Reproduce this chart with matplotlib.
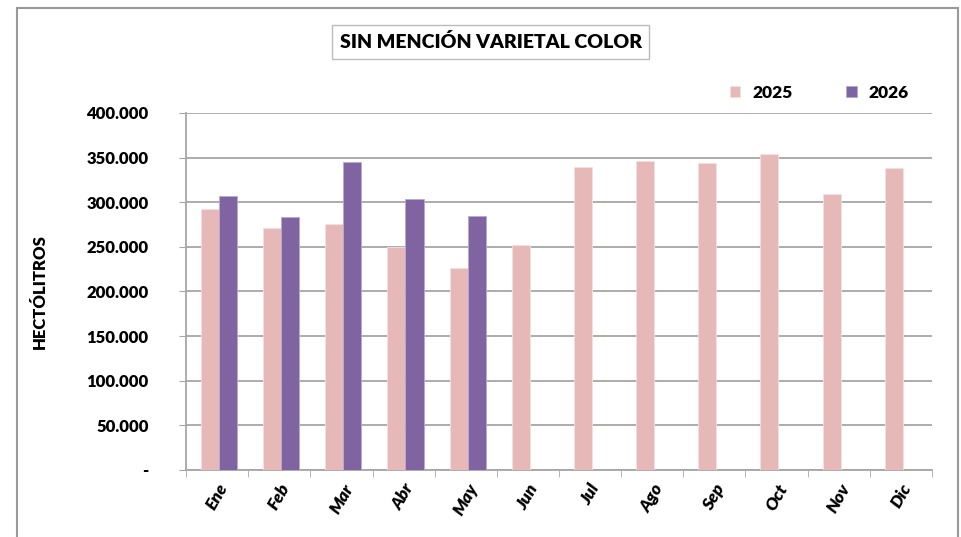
import matplotlib.pyplot as plt
import numpy as np
from matplotlib.patches import Rectangle
from matplotlib.ticker import FuncFormatter

plt.rcParams['font.family'] = ['Lato', 'DejaVu Sans']

# Data
months = ['Ene', 'Feb', 'Mar', 'Abr', 'May', 'Jun', 'Jul', 'Ago', 'Sep', 'Oct', 'Nov', 'Dic']
values_2025 = [292000, 271000, 276000, 250000, 226000, 252000, 340000, 346000, 344000, 354000, 309000, 338000]
values_2026 = [307000, 283000, 345000, 304000, 285000]

color_2025 = '#E6B9B8'
color_2026 = '#8064A2'
W = 'heavy'

fig = plt.figure(figsize=(9.61, 5.37), dpi=100)
ax = fig.add_axes([0.1936, 0.1248, 0.7762, 0.6648])

# Outer chart frame
fig.patches.append(Rectangle((0.0177, -0.05), 0.979, 1.035, transform=fig.transFigure,
                             fill=False, edgecolor='#999999', linewidth=1.5))

x = np.arange(len(months))
width = 0.29
ax.bar(x - width/2 + 0.03, values_2025, width, color=color_2025, edgecolor='#F5E0E0', linewidth=0.6,
       label='2025', zorder=3)
ax.bar(x[:len(values_2026)] + width/2 + 0.03, values_2026, width, color=color_2026, edgecolor='#B9A9D0',
       linewidth=0.6, label='2026', zorder=3)

ax.set_xlim(-0.5, len(months) - 0.5)
ax.set_ylim(0, 400000)
ax.set_yticks(np.arange(0, 400001, 50000))
ax.yaxis.set_major_formatter(FuncFormatter(
    lambda v, p: '-' if v == 0 else f'{int(v):,}'.replace(',', '.')))
ax.grid(axis='y', color='#A6A6A6', linewidth=1.3, zorder=0)

ax.set_xticks(x)
ax.set_xticklabels(months, rotation=60, ha='center', fontweight=W, style='italic', fontsize=12.5)
ax.set_xticks(np.arange(-0.5, len(months), 1), minor=True)
ax.tick_params(axis='x', which='major', length=0, pad=8)
ax.tick_params(axis='x', which='minor', length=5, color='#A6A6A6')
ax.tick_params(axis='y', length=5, color='#A6A6A6', labelsize=12, pad=22)
for lbl in ax.get_yticklabels():
    lbl.set_fontweight(W)

for s in ['top', 'right']:
    ax.spines[s].set_visible(False)
for s in ['left', 'bottom']:
    ax.spines[s].set_color('#A6A6A6')
    ax.spines[s].set_linewidth(1.3)

ax.set_ylabel('HECTÓLITROS', fontweight=W, fontsize=12, labelpad=28)

ax.legend(loc='lower right', bbox_to_anchor=(0.99, 0.99), ncol=2, frameon=False,
          prop={'weight': W, 'size': 12.5}, handlelength=0.6, handleheight=0.6,
          columnspacing=3.1, handletextpad=0.7)

fig.text(0.5105, 0.922, 'SIN MENCIÓN VARIETAL COLOR', ha='center', va='center',
         fontsize=14, fontweight=W,
         bbox=dict(boxstyle='square,pad=0.4', facecolor='white', edgecolor='#BBBBBB', linewidth=1))

fig.savefig('out.png', dpi=100)
